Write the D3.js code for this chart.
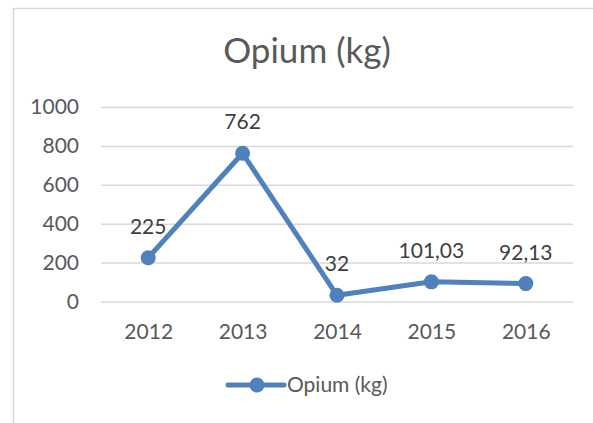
<!DOCTYPE html>
<html>
<head>
<meta charset="utf-8">
<script src="https://cdn.jsdelivr.net/npm/d3@7"></script>
<style>
  body { margin: 0; background: #fff; }
  svg { display: block; font-family: Lato, "Open Sans", sans-serif; }
</style>
</head>
<body>
<div id="chart"></div>
<script>
// Opium seizures per year
const years = ['2012', '2013', '2014', '2015', '2016'];
const opium = [225, 762, 32, 101.03, 92.13];
const valueLabels = ['225', '762', '32', '101,03', '92,13'];
const yTicks = [0, 200, 400, 600, 800, 1000];
const seriesName = 'Opium (kg)';

const width = 593, height = 423;
const margin = { top: 107, bottom: 121.5, left: 101, right: 20 };
const blue = '#4f81bd';

const svg = d3.select('#chart')
    .append('svg')
    .attr('width', width)
    .attr('height', height);

// chart border (cut off at right and bottom)
svg.append('rect')
    .attr('x', 13.5).attr('y', 8.5)
    .attr('width', 620).attr('height', 440)
    .attr('fill', 'none')
    .attr('stroke', '#d9d9d9')
    .attr('stroke-width', 1.5);

const x = d3.scalePoint()
    .domain(years)
    .range([margin.left, width - margin.right])
    .padding(0.5);

const y = d3.scaleLinear()
    .domain([0, 1000])
    .range([height - margin.bottom, margin.top]);

// title
svg.append('text')
    .attr('x', 307).attr('y', 63)
    .attr('text-anchor', 'middle')
    .attr('fill', '#595959')
    .style('font-size', '35px')
    .text(seriesName);

// gridlines + y labels
const yAxis = svg.append('g')
    .attr('transform', `translate(${margin.left},0)`)
    .call(d3.axisLeft(y).tickValues(yTicks)
        .tickFormat(d3.format('d'))
        .tickSize(-(width - margin.left - margin.right))
        .tickPadding(22));
yAxis.select('.domain').remove();
yAxis.selectAll('line').attr('stroke', '#d9d9d9').attr('stroke-width', 1.5);
yAxis.selectAll('text')
    .attr('fill', '#595959')
    .style('font-size', '21px')
    .style('font-family', 'Lato, sans-serif');

// x labels
const xAxis = svg.append('g')
    .attr('transform', `translate(0,${height - margin.bottom})`)
    .call(d3.axisBottom(x).tickSize(0).tickPadding(23));
xAxis.select('.domain').remove();
xAxis.selectAll('text')
    .attr('fill', '#595959')
    .style('font-size', '21px')
    .style('font-family', 'Lato, sans-serif');

const data = years.map((yr, i) => ({ k: yr, v: opium[i], label: valueLabels[i] }));

svg.append('path')
    .datum(data)
    .attr('fill', 'none')
    .attr('stroke', blue)
    .attr('stroke-width', 5)
    .attr('stroke-linejoin', 'round')
    .attr('d', d3.line().x(d => x(d.k)).y(d => y(d.v)));

svg.selectAll('circle.pt')
    .data(data)
    .join('circle')
    .attr('class', 'pt')
    .attr('cx', d => x(d.k))
    .attr('cy', d => y(d.v))
    .attr('r', 7.5)
    .attr('fill', blue);

svg.selectAll('text.lbl')
    .data(data)
    .join('text')
    .attr('class', 'lbl')
    .attr('x', d => x(d.k))
    .attr('y', d => y(d.v) - 24)
    .attr('text-anchor', 'middle')
    .attr('fill', '#404040')
    .style('font-size', '21px')
    .text(d => d.label);

// legend
const legend = svg.append('g').attr('transform', 'translate(228,385)');
legend.append('line')
    .attr('x1', 0).attr('x2', 56)
    .attr('stroke', blue).attr('stroke-width', 5)
    .attr('stroke-linecap', 'round');
legend.append('circle').attr('cx', 29).attr('r', 7.5).attr('fill', blue);
legend.append('text')
    .attr('x', 59).attr('y', 7)
    .attr('fill', '#595959')
    .style('font-size', '21px')
    .text(seriesName);
</script>
</body>
</html>
